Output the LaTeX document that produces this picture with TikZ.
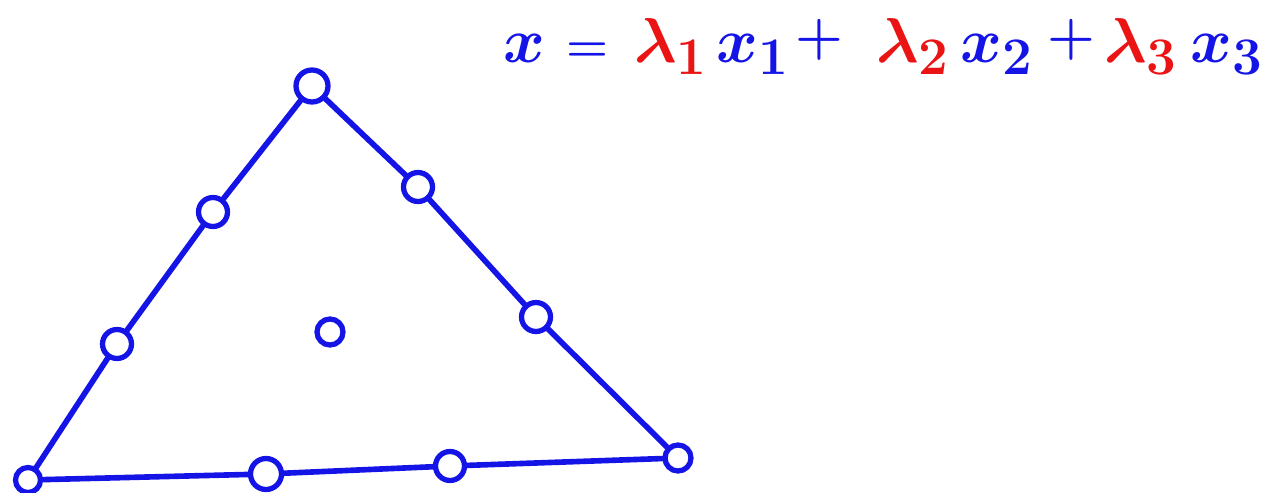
\documentclass[tikz,border=0pt]{standalone}
\usepackage{graphicx}
\definecolor{pen}{RGB}{20,20,230}
\definecolor{redpen}{RGB}{235,20,20}
\newcommand{\bigeq}[1]{\scalebox{1.45}{\Huge\boldmath$#1$}}
\newcommand{\opeq}[2]{\scalebox{#1}{\Huge\boldmath$#2$}}
\tikzset{
  pt/.style={circle,draw=pen,line width=3pt,fill=white,minimum size=0.58cm,inner sep=0pt},
  edge/.style={draw=pen,line width=3.2pt,line cap=round},
  eqtxt/.style={anchor=base west,inner sep=0pt}
}
\begin{document}
\begin{tikzpicture}[x=0.02cm,y=-0.02cm]
\useasboundingbox (0,0) rectangle (1264,493);
\node[pt,minimum size=0.5cm] (v1) at (28,480) {};
\node[pt,minimum size=0.64cm] (v2) at (312,86) {};
\node[pt,minimum size=0.52cm] (v3) at (678,458) {};
\node[pt] (l1) at (213,212) {};
\node[pt] (l2) at (117,344) {};
\node[pt] (r1) at (418,187) {};
\node[pt] (r2) at (536,317) {};
\node[pt,minimum size=0.62cm] (b1) at (266,474) {};
\node[pt] (b2) at (450,466) {};
\node[pt,minimum size=0.52cm] (c) at (330,332) {};
\draw[edge] (v1) -- (l2);
\draw[edge] (l2) -- (l1);
\draw[edge] (l1) -- (v2);
\draw[edge] (v2) -- (r1);
\draw[edge] (r1) -- (r2);
\draw[edge] (r2) -- (v3);
\draw[edge] (v1) -- (b1);
\draw[edge] (b1) -- (b2);
\draw[edge] (b2) -- (v3);
\node[eqtxt,text=pen] (ex) at (503,63) {\bigeq{x}};
\node[eqtxt,text=pen] (eqs) at (566,62) {\opeq{1.1}{=}};
\node[eqtxt,text=redpen] (lam1) at (634,63) {\bigeq{\lambda_1}};
\node[eqtxt,text=pen] (ex1) at (716,63) {\bigeq{x_1}};
\node[eqtxt,text=pen] (pl1) at (795,54) {\opeq{1.25}{+}};
\node[eqtxt,text=redpen] (lam2) at (876,63) {\bigeq{\lambda_2}};
\node[eqtxt,text=pen] (ex2) at (960,63) {\bigeq{x_2}};
\node[eqtxt,text=pen] (pl2) at (1047,54) {\opeq{1.25}{+}};
\node[eqtxt,text=redpen] (lam3) at (1104,63) {\bigeq{\lambda_3}};
\node[eqtxt,text=pen] (ex3) at (1190,63) {\bigeq{x_3}};
\end{tikzpicture}
\end{document}
